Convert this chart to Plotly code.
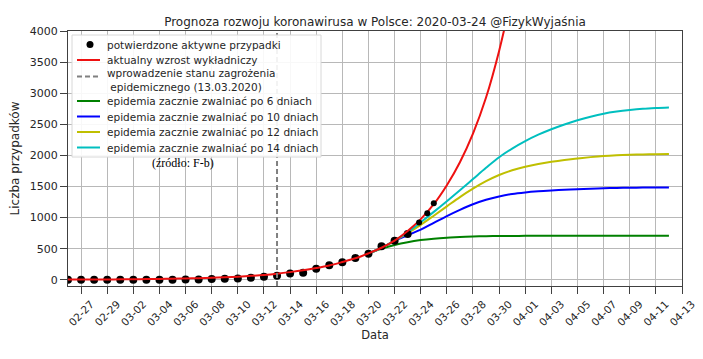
import plotly.graph_objects as go

# --- data ---
obs_dates = ["2020-02-26", "2020-02-27", "2020-02-28", "2020-02-29", "2020-03-01",
             "2020-03-02", "2020-03-03", "2020-03-04", "2020-03-05", "2020-03-06",
             "2020-03-07", "2020-03-08", "2020-03-09", "2020-03-10", "2020-03-11",
             "2020-03-12", "2020-03-13", "2020-03-14", "2020-03-15", "2020-03-16",
             "2020-03-17", "2020-03-18", "2020-03-19", "2020-03-20", "2020-03-21",
             "2020-03-22", "2020-03-23"]
obs_values = [0, 0, 0, 0, 0, 0, 0, 1, 1, 5, 6, 11, 16, 22, 31, 49, 66, 101, 114, 176,
              235, 282, 350, 420, 540, 626, 736]

late_dates = ["2020-03-23 21:00", "2020-03-24 12:00", "2020-03-25 00:00"]
late_values = [922, 1071, 1232]

exp_dates = ["2020-02-26", "2020-02-27", "2020-02-28", "2020-02-29", "2020-03-01",
             "2020-03-02", "2020-03-03", "2020-03-04", "2020-03-05", "2020-03-06",
             "2020-03-07", "2020-03-08", "2020-03-09", "2020-03-10", "2020-03-11",
             "2020-03-12", "2020-03-13", "2020-03-14", "2020-03-15", "2020-03-16",
             "2020-03-17", "2020-03-18", "2020-03-19", "2020-03-20", "2020-03-21",
             "2020-03-22", "2020-03-23", "2020-03-24", "2020-03-25", "2020-03-26",
             "2020-03-27", "2020-03-28", "2020-03-29", "2020-03-30", "2020-03-31"]
exp_values = [3, 4, 5, 6, 7, 9, 11, 13, 17, 21, 26, 32, 40, 50, 63, 78, 98, 123, 152,
              188, 230, 285, 345, 425, 515, 630, 785, 975, 1215, 1520, 1890, 2350,
              2930, 3680, 4600]

model_dates = ["2020-03-20", "2020-03-21", "2020-03-22", "2020-03-23", "2020-03-24",
               "2020-03-25", "2020-03-26", "2020-03-27", "2020-03-28", "2020-03-29",
               "2020-03-30", "2020-03-31", "2020-04-01", "2020-04-02", "2020-04-03",
               "2020-04-04", "2020-04-05", "2020-04-06", "2020-04-07", "2020-04-08",
               "2020-04-09", "2020-04-10", "2020-04-11", "2020-04-12"]
model_6 = [425, 500, 560, 605, 638, 660, 676, 688, 696, 701, 704, 705, 706, 707, 707,
           707, 707, 707, 707, 707, 707, 707, 707, 707]
model_10 = [425, 515, 625, 715, 805, 915, 1025, 1125, 1215, 1287, 1340, 1380, 1405,
            1422, 1435, 1447, 1457, 1465, 1472, 1477, 1480, 1482, 1483, 1484]
model_12 = [425, 515, 628, 750, 884, 1030, 1180, 1330, 1465, 1585, 1685, 1760, 1818,
            1862, 1897, 1926, 1950, 1972, 1990, 2002, 2010, 2016, 2020, 2022]
model_14 = [425, 515, 630, 765, 925, 1092, 1264, 1440, 1620, 1800, 1970, 2110, 2230,
            2333, 2420, 2497, 2565, 2622, 2670, 2704, 2730, 2750, 2763, 2772]

lockdown_date = "2020-03-13"

tick_dates = ["2020-02-27", "2020-02-29", "2020-03-02", "2020-03-04", "2020-03-06",
              "2020-03-08", "2020-03-10", "2020-03-12", "2020-03-14", "2020-03-16",
              "2020-03-18", "2020-03-20", "2020-03-22", "2020-03-24", "2020-03-26",
              "2020-03-28", "2020-03-30", "2020-04-01", "2020-04-03", "2020-04-05",
              "2020-04-07", "2020-04-09", "2020-04-11", "2020-04-13"]
tick_labels = ["02-27", "02-29", "03-02", "03-04", "03-06", "03-08", "03-10", "03-12",
               "03-14", "03-16", "03-18", "03-20", "03-22", "03-24", "03-26", "03-28",
               "03-30", "04-01", "04-03", "04-05", "04-07", "04-09", "04-11", "04-13"]
y_ticks = [0, 500, 1000, 1500, 2000, 2500, 3000, 3500, 4000]

FONT = "DejaVu Sans"
TXT = "#262626"
fig = go.Figure()

models = [
    ("epidemia zacznie zwalniać po 6 dniach", model_6, "#008000"),
    ("epidemia zacznie zwalniać po 10 dniach", model_10, "#0000ff"),
    ("epidemia zacznie zwalniać po 12 dniach", model_12, "#bfbf00"),
    ("epidemia zacznie zwalniać po 14 dniach", model_14, "#00bfbf"),
]
for name, vals, col in models:
    fig.add_trace(go.Scatter(x=model_dates, y=vals, mode="lines", name=name,
                             line=dict(color=col, width=2, shape="spline")))

fig.add_trace(go.Scatter(x=obs_dates, y=obs_values, mode="markers",
                         name="potwierdzone aktywne przypadki",
                         marker=dict(color="black", size=8)))

fig.add_trace(go.Scatter(x=exp_dates, y=exp_values, mode="lines",
                         name="aktualny wzrost wykładniczy",
                         line=dict(color="#ee1111", width=2, shape="spline")))

fig.add_trace(go.Scatter(x=late_dates, y=late_values, mode="markers",
                         name="potwierdzone aktywne przypadki",
                         marker=dict(color="black", size=6)))

fig.add_trace(go.Scatter(x=[lockdown_date, lockdown_date], y=[-100, 4000], mode="lines",
                         name="wprowadzenie stanu zagrożenia epidemicznego (13.03.2020)",
                         line=dict(color="#808080", width=2, dash="5px,3px")))

# ---- legend drawn as a box in paper coordinates (matplotlib-style compact legend)
PX0, PX1, PY0, PY1 = 68.0, 682.0, 31.0, 286.0   # plot area in page pixels


def px(x):
    return (x - PX0) / (PX1 - PX0)


def py(y):
    return (PY1 - y) / (PY1 - PY0)


shapes = [dict(type="rect", xref="paper", yref="paper", layer="above",
               x0=px(72), x1=px(321), y0=py(157), y1=py(35),
               fillcolor="rgba(255,255,255,0.9)", line=dict(color="#d8d8d8", width=1))]
annots = []

leg_rows = [
    ("dot", "black", None, "potwierdzone aktywne przypadki", 44.5),
    ("line", "#ee1111", "solid", "aktualny wzrost wykładniczy", 60),
    ("line", "#808080", "5px,3px", "wprowadzenie stanu zagrożenia<br> epidemicznego (13.03.2020)", 79.5),
    ("line", "#008000", "solid", models[0][0], 101),
    ("line", "#0000ff", "solid", models[1][0], 116.5),
    ("line", "#bfbf00", "solid", models[2][0], 132),
    ("line", "#00bfbf", "solid", models[3][0], 147.5),
]
for kind, col, dash, label, yc in leg_rows:
    if kind == "dot":
        shapes.append(dict(type="circle", xref="paper", yref="paper", layer="above",
                           x0=px(86.5), x1=px(93.5), y0=py(48), y1=py(41),
                           fillcolor=col, line=dict(color=col, width=0)))
    else:
        ly = yc - 3 if "<br>" in label else yc
        shapes.append(dict(type="line", xref="paper", yref="paper", layer="above",
                           x0=px(77), x1=px(100), y0=py(ly), y1=py(ly),
                           line=dict(color=col, width=2, dash=dash)))
    annots.append(dict(text=label, xref="paper", yref="paper", x=px(105), y=py(yc),
                       xanchor="left", yanchor="middle", showarrow=False, align="left",
                       font=dict(family=FONT, size=10.5, color=TXT)))

annots.append(dict(text="(źródło: F-b)", xref="paper", yref="paper",
                   x=px(150), y=py(163), xanchor="left", yanchor="middle",
                   showarrow=False,
                   font=dict(family="Liberation Serif", size=12, color="black")))

# page has an 8px body margin; figure coordinates = page coordinates - 8
fig.update_layout(
    width=695, height=351,
    margin=dict(l=60, r=21, t=23, b=73),
    paper_bgcolor="white", plot_bgcolor="white",
    font=dict(family=FONT, size=11, color=TXT),
    title=dict(text="Prognoza rozwoju koronawirusa w Polsce: 2020-03-24 @FizykWyjaśnia",
               x=367 / 695, xanchor="center", y=1 - 14 / 351, yanchor="middle",
               font=dict(family=FONT, size=12, color=TXT)),
    showlegend=False,
    shapes=shapes,
    annotations=annots,
)

fig.update_xaxes(
    type="date", range=["2020-02-26", "2020-04-13"],
    tickvals=tick_dates, ticktext=tick_labels, tickangle=-45,
    tickfont=dict(family=FONT, size=10.5, color=TXT),
    ticklabelshift=10,
    showgrid=True, gridcolor="#b8b8b8", gridwidth=1,
    showline=True, linecolor="#404040", linewidth=1, mirror=True,
    ticks="outside", ticklen=7, tickcolor="#404040",
    zeroline=False, automargin=False,
    title=dict(text="Data", font=dict(family=FONT, size=11.5, color=TXT),
               standoff=0),
)
fig.update_yaxes(
    range=[-100, 4000], tickvals=y_ticks,
    tickfont=dict(family=FONT, size=11, color=TXT),
    showgrid=True, gridcolor="#b8b8b8", gridwidth=1,
    showline=True, linecolor="#404040", linewidth=1, mirror=True,
    ticks="outside", ticklen=7, tickcolor="#404040",
    zeroline=False, automargin=False,
    title=dict(text="Liczba przypadków", font=dict(family=FONT, size=12, color=TXT),
               standoff=10),
)

fig.write_html("out.html")
